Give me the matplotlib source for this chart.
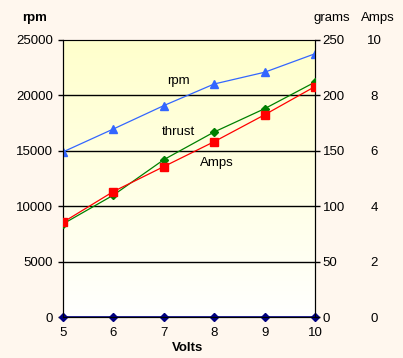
import numpy as np
import matplotlib
matplotlib.use("Agg")
import matplotlib.pyplot as plt

# DATA
volts = [5, 6, 7, 8, 9, 10]
rpm = [14900, 16970, 19080, 21030, 22090, 23760]
thrust = [84, 110, 142, 167, 188, 212]
amps = [3.42, 4.53, 5.43, 6.33, 7.30, 8.32]
zero = [0, 0, 0, 0, 0, 0]

rpm_ticks = [0, 5000, 10000, 15000, 20000, 25000]
gram_ticks = [0, 50, 100, 150, 200, 250]
amp_ticks = [0, 2, 4, 6, 8, 10]

plt.rcParams['font.family'] = ['Liberation Sans', 'DejaVu Sans']
plt.rcParams['font.size'] = 9.5

W, H = 403, 358
fig = plt.figure(figsize=(W / 100, H / 100), dpi=100)
fig.patch.set_facecolor('#FFF7EE')

ax = fig.add_axes([63 / W, (H - 317) / H, 252 / W, 277 / H])
ax.set_xlim(5, 10)
ax.set_ylim(0, 25000)

# yellow to white gradient background
grad = np.linspace(0, 1, 256).reshape(-1, 1)
top = np.array([1.0, 1.0, 0.80])
bot = np.array([1.0, 1.0, 1.0])
img = bot + (top - bot) * grad[..., None] ** 0.9
ax.imshow(img, extent=[0, 1, 0, 1], transform=ax.transAxes, origin='lower',
          aspect='auto', zorder=0)

for y in rpm_ticks[1:-1]:
    ax.axhline(y, color='black', lw=1, zorder=1)

ax.plot(volts, rpm, color='#3366FF', lw=0.9, marker='^', ms=6, zorder=4)
ax.plot(volts, zero, color='#000080', lw=1.2, marker='D', ms=4, zorder=5,
        clip_on=False)

ax.set_yticks(rpm_ticks)
ax.set_xticks(volts)
ax.tick_params(axis='y', length=3.6, width=1, pad=3.5, direction='out')
ax.tick_params(axis='x', length=0, pad=7)
for s in ['left', 'bottom']:
    ax.spines[s].set_color('black')
ax.spines['top'].set_color('#808080')
ax.spines['right'].set_color('black')

ax2 = ax.twinx()
ax2.set_ylim(0, 250)
ax2.set_yticks(gram_ticks)
ax2.plot(volts, thrust, color='#008000', lw=0.9, marker='D', ms=4.5, zorder=4)
ax2.tick_params(axis='y', length=3.6, width=1, pad=2, direction='out')
ax2.spines['right'].set_color('black')

ax3 = ax.twinx()
ax3.set_ylim(0, 10)
ax3.set_yticks(amp_ticks)
ax3.plot(volts, amps, color='#FF0000', lw=0.9, marker='s', ms=5.5, zorder=3)
ax3.tick_params(axis='y', length=0, pad=42.5)
for lab in ax3.get_yticklabels():
    lab.set_horizontalalignment('center')
for s in ax3.spines.values():
    s.set_visible(False)

# series labels
ax.text(7.30, 21300, 'rpm', ha='center', va='center', zorder=6)
ax.text(7.29, 16700, 'thrust', ha='center', va='center', zorder=6)
ax.text(8.05, 13940, 'Amps', ha='center', va='center', zorder=6)

# axis titles
fig.text(35 / W, 1 - 18 / H, 'rpm', ha='center', va='center', fontweight='bold')
fig.text(332 / W, 1 - 18 / H, 'grams', ha='center', va='center')
fig.text(378 / W, 1 - 18 / H, 'Amps', ha='center', va='center')
fig.text(188 / W, 1 - 348 / H, 'Volts', ha='center', va='center', fontweight='bold')

fig.savefig('out.png', dpi=100, facecolor=fig.get_facecolor())
